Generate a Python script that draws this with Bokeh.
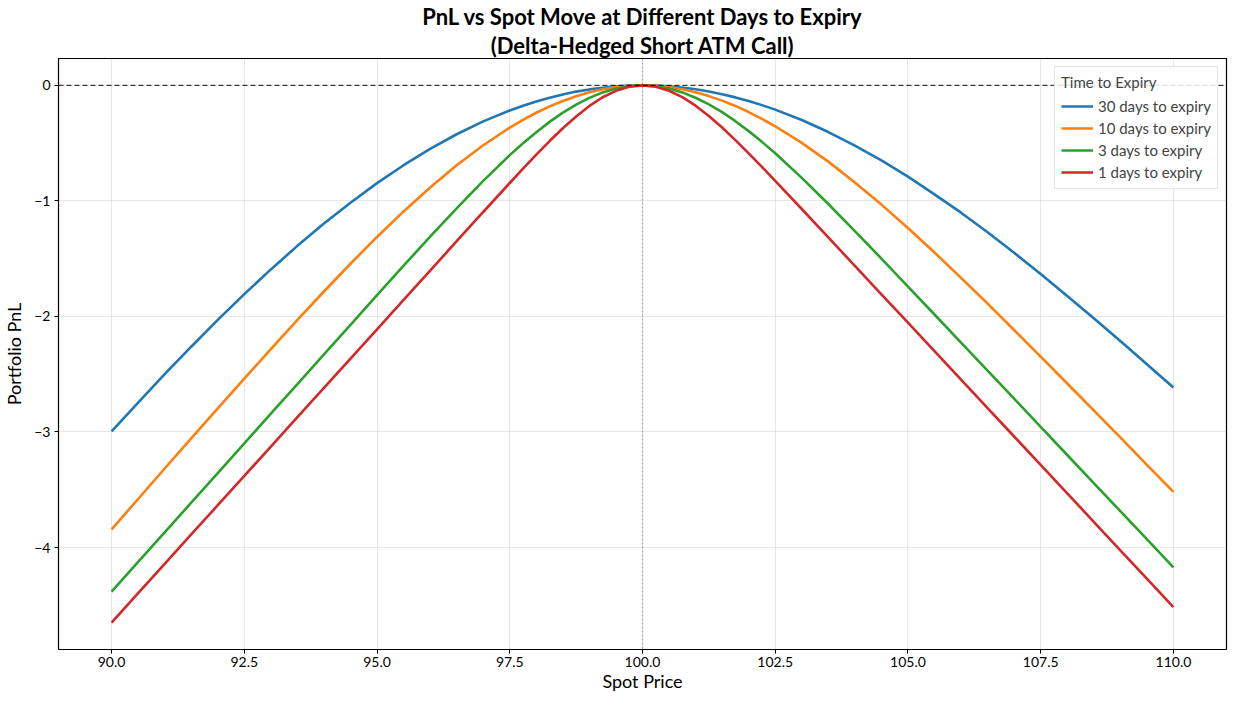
from bokeh.plotting import figure
from bokeh.models import Span, Legend, LegendItem, FixedTicker, CustomJSTickFormatter, Title
from bokeh.embed import file_html
from bokeh.resources import INLINE

# values
spot = [90, 90.5, 91, 91.5, 92, 92.5, 93, 93.5, 94, 94.5, 95, 95.5, 96, 96.5, 97, 97.5,
        97.75, 98, 98.25, 98.5, 98.75, 99, 99.25, 99.5, 99.75, 100,
        100.25, 100.5, 100.75, 101, 101.25, 101.5, 101.75, 102, 102.25,
        102.5, 103, 103.5, 104, 104.5, 105, 105.5, 106, 106.5, 107, 107.5, 108, 108.5, 109, 109.5, 110]

pnl_30d = [-2.995, -2.745, -2.500, -2.262, -2.030, -1.807, -1.593, -1.389, -1.196, -1.016, -0.846, -0.691,
           -0.550, -0.423, -0.312, -0.217,
           -0.176, -0.140, -0.107, -0.079, -0.054, -0.035, -0.020, -0.009, -0.002, 0.0,
           -0.002, -0.009, -0.019, -0.034, -0.053, -0.077, -0.104, -0.136, -0.171,
           -0.210, -0.300, -0.404, -0.521, -0.650, -0.790, -0.943, -1.102, -1.271, -1.449, -1.633,
           -1.822, -2.016, -2.213, -2.413, -2.615]
pnl_10d = [-3.842, -3.580, -3.316, -3.055, -2.796, -2.538, -2.282, -2.030, -1.784, -1.544, -1.312, -1.091,
           -0.884, -0.691, -0.518, -0.366,
           -0.299, -0.237, -0.182, -0.135, -0.094, -0.060, -0.034, -0.015, -0.004, 0.0,
           -0.004, -0.015, -0.033, -0.059, -0.093, -0.132, -0.178, -0.231, -0.290,
           -0.354, -0.498, -0.660, -0.840, -1.032, -1.235, -1.447, -1.666, -1.889, -2.117, -2.348,
           -2.580, -2.813, -3.047, -3.284, -3.519]
pnl_3d = [-4.382, -4.125, -3.869, -3.612, -3.355, -3.098, -2.841, -2.585, -2.328, -2.072, -1.816, -1.561,
          -1.310, -1.064, -0.827, -0.604,
          -0.501, -0.405, -0.316, -0.236, -0.167, -0.108, -0.061, -0.027, -0.007, 0.0,
          -0.007, -0.027, -0.061, -0.107, -0.164, -0.232, -0.310, -0.396, -0.489,
          -0.588, -0.801, -1.027, -1.261, -1.499, -1.741, -1.983, -2.226, -2.469, -2.712, -2.955,
          -3.199, -3.442, -3.685, -3.928, -4.171]
pnl_1d = [-4.649, -4.395, -4.141, -3.887, -3.634, -3.380, -3.126, -2.872, -2.618, -2.365, -2.111, -1.857,
          -1.603, -1.349, -1.096, -0.845,
          -0.721, -0.599, -0.482, -0.371, -0.269, -0.178, -0.103, -0.047, -0.012, 0.0,
          -0.012, -0.047, -0.102, -0.176, -0.265, -0.365, -0.474, -0.588, -0.706,
          -0.826, -1.070, -1.316, -1.562, -1.808, -2.054, -2.300, -2.547, -2.793, -3.039, -3.285,
          -3.531, -3.777, -4.024, -4.270, -4.516]

series = [
    ("30 days to expiry", pnl_30d, "#1f77b4"),
    ("10 days to expiry", pnl_10d, "#ff7f0e"),
    ("3 days to expiry", pnl_3d, "#2ca02c"),
    ("1 days to expiry", pnl_1d, "#d62728"),
]

x_ticks = [90, 92.5, 95, 97.5, 100, 102.5, 105, 107.5, 110]
y_ticks = [-4, -3, -2, -1, 0]

FONT = "Lato"

p = figure(width=1228, height=694, x_range=(89, 111), y_range=(-4.8825, 0.2325),
           output_backend="svg", toolbar_location=None,
           min_border_left=40, min_border_right=2, min_border_top=0, min_border_bottom=0)

# two title lines, both centred
sub = Title(text="(Delta-Hedged Short ATM Call)", align="center", text_font=FONT,
            text_font_size="22px", text_font_style="bold", text_color="black",
            text_line_height=0.9, standoff=0)
main = Title(text="PnL vs Spot Move at Different Days to Expiry", align="center", text_font=FONT,
             text_font_size="22px", text_font_style="bold", text_color="black",
             text_line_height=0.9, standoff=0)
p.add_layout(sub, "above")
p.add_layout(main, "above")

p.outline_line_color = "black"
p.outline_line_width = 1.2
p.background_fill_color = "white"
p.border_fill_color = "white"

p.xgrid.grid_line_color = "#b0b0b0"
p.ygrid.grid_line_color = "#b0b0b0"
p.xgrid.grid_line_alpha = 0.3
p.ygrid.grid_line_alpha = 0.3

p.xaxis.ticker = FixedTicker(ticks=x_ticks)
p.yaxis.ticker = FixedTicker(ticks=y_ticks)
p.xaxis.formatter = CustomJSTickFormatter(code="return tick.toFixed(1);")
p.yaxis.formatter = CustomJSTickFormatter(
    code="return tick < 0 ? '\u2212' + Math.abs(tick).toFixed(0) : tick.toFixed(0);")

for ax in (p.xaxis[0], p.yaxis[0]):
    ax.axis_line_color = None
    ax.major_tick_line_color = "black"
    ax.major_tick_out = 4
    ax.major_tick_in = 0
    ax.minor_tick_line_color = None
    ax.major_label_text_font = FONT
    ax.major_label_text_font_size = "14px"
    ax.major_label_text_color = "black"
    ax.major_label_text_line_height = 1.0
    ax.axis_label_text_font = FONT
    ax.axis_label_text_font_size = "18px"
    ax.axis_label_text_font_style = "normal"
    ax.axis_label_text_color = "black"
    ax.axis_label_text_line_height = 1.0

p.xaxis.major_label_standoff = 3
p.xaxis.axis_label_standoff = 0
p.yaxis.major_label_standoff = 4
p.yaxis.axis_label_standoff = 6

p.xaxis.axis_label = "Spot Price"
p.yaxis.axis_label = "Portfolio PnL"

items = []
for label, vals, color in series:
    r = p.line(spot, vals, line_color=color, line_width=2.6)
    items.append(LegendItem(label=label, renderers=[r]))

p.add_layout(Span(location=0, dimension="width", line_color="black", line_alpha=0.75,
                  line_dash="5 3", line_width=1.1))
p.add_layout(Span(location=100, dimension="height", line_color="gray", line_alpha=0.7,
                  line_dash="2 2", line_width=1))

legend = Legend(items=items, location="top_right", title="Time to Expiry")
legend.title_text_font = FONT
legend.title_text_font_size = "15px"
legend.title_text_font_style = "normal"
legend.label_text_font = FONT
legend.label_text_font_size = "15px"
legend.glyph_width = 32
legend.glyph_height = 20
legend.label_height = 20
legend.spacing = 2
legend.padding = 6
legend.margin = 8
legend.border_line_color = "#cccccc"
legend.background_fill_alpha = 0.85
p.add_layout(legend)

open("out.html", "w").write(file_html(p, INLINE))
